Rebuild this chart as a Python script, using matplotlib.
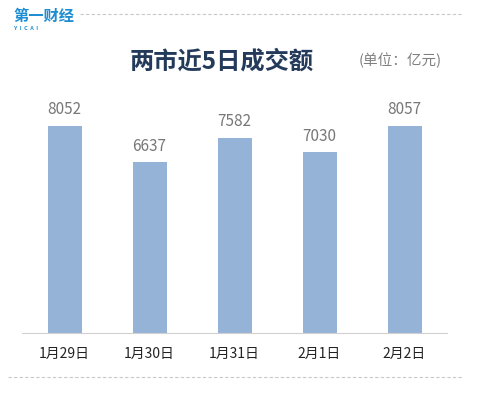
import matplotlib.pyplot as plt

plt.rcParams['font.family'] = ['Noto Sans CJK SC', 'DejaVu Sans']

# 数据
dates = ['1月29日', '1月30日', '1月31日', '2月1日', '2月2日']
turnover = [8052, 6637, 7582, 7030, 8057]

W, H = 499, 393
fig = plt.figure(figsize=(W / 100, H / 100), dpi=100)

# area del grafico: x 22..447, y 95..333 (pixel)
ax = fig.add_axes([22 / W, 1 - 333 / H, 425 / W, (333 - 95) / H])
x = range(len(dates))
bars = ax.bar(x, turnover, width=0.4, color='#95B3D7')
ax.set_xlim(-0.5, len(dates) - 0.5)
ax.set_ylim(0, 9260)

for b, v in zip(bars, turnover):
    ax.text(b.get_x() + b.get_width() / 2, v + 300, str(v),
            ha='center', va='bottom', fontsize=11, color='#777777')

ax.set_xticks(list(x))
ax.set_xticklabels(dates, fontsize=10, color='#222222')
ax.tick_params(axis='x', length=0, pad=10)
ax.set_yticks([])
for s in ['top', 'left', 'right']:
    ax.spines[s].set_visible(False)
ax.spines['bottom'].set_color('#D0D0D0')

# titolo e unità
fig.text(222 / W, 1 - 62 / H, '两市近5日成交额', ha='center', va='center',
         fontsize=17.5, fontweight='bold', color='#243A5A')
fig.text(400 / W, 1 - 60 / H, '(单位：亿元)', ha='center', va='center',
         fontsize=10.5, color='#808080')

# logo
fig.text(13 / W, 1 - 16 / H, '第一财经', ha='left', va='center',
         fontsize=11, fontweight='bold', color='#1E8ED3')
fig.text(14 / W, 1 - 29 / H, 'Y  I  C  A  I', ha='left', va='center',
         fontsize=4, fontweight='bold', color='#1E8ED3')

# linee tratteggiate
fig.add_artist(plt.Line2D([80 / W, 463 / W], [1 - 14 / H, 1 - 14 / H],
                          color='#C8C8C8', lw=0.8, ls=(0, (3, 2))))
fig.add_artist(plt.Line2D([8 / W, 463 / W], [1 - 377 / H, 1 - 377 / H],
                          color='#C8C8C8', lw=0.8, ls=(0, (3, 2))))

fig.savefig('out.png', dpi=100)
